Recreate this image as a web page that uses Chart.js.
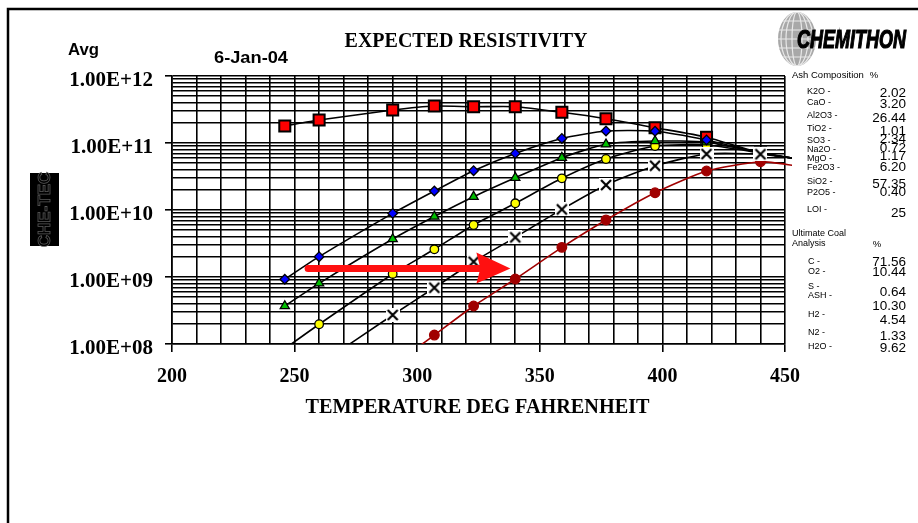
<!DOCTYPE html>
<html><head><meta charset="utf-8">
<script src="https://cdn.jsdelivr.net/npm/chart.js@4.4.1/dist/chart.umd.min.js"></script>
<style>html,body{margin:0;padding:0;background:#fff;}canvas{display:block;}</style>
</head><body>
<canvas id="c" width="918" height="523"></canvas>
<script>
// ---------- data ----------
const temperatures = [246, 260, 290, 307, 323, 340, 359, 377, 397, 418, 440, 455];
const redSquares = [1.79e11, 2.2e11, 3.1e11, 3.56e11, 3.48e11, 3.48e11, 2.87e11, 2.3e11, 1.69e11, 1.22e11, 7.1e10, 5.8e10];
const blueDiamonds = [9.25e8, 2.01e9, 8.9e9, 1.92e10, 3.86e10, 7.0e10, 1.17e11, 1.51e11, 1.5e11, 1.11e11, 7.1e10, 5.8e10];
const greenTriangles = [3.69e8, 8.05e8, 3.69e9, 8.0e9, 1.58e10, 3.03e10, 6.04e10, 9.57e10, 1.07e11, 1.03e11, 7.1e10, 5.8e10];
const yellowCircles = [8.5e7, 1.97e8, 1.11e9, 2.59e9, 5.97e9, 1.26e10, 2.97e10, 5.77e10, 9.02e10, 9.33e10, 7.1e10, 5.8e10];
const crosses = [null, 4.9e7, 2.71e8, 6.92e8, 1.69e9, 3.91e9, 1.02e10, 2.36e10, 4.58e10, 6.85e10, 6.8e10, 5.8e10];
const darkRedDots = [null, null, 4.7e7, 1.36e8, 3.69e8, 9.33e8, 2.77e9, 7.1e9, 1.81e10, 3.82e10, 5.26e10, 4.54e10];

const xMin = 200, xMax = 450;
const xLabelValues = [200, 250, 300, 350, 400, 450];
const xGridValues = [200,210,220,230,240,250,260,270,280,290,300,310,320,330,340,350,360,370,380,390,400,410,420,430,440,450];
const yDecadeExponents = [8, 9, 10, 11, 12];
const yMinorSignificands = [1, 2, 3, 4, 5, 6, 7, 8, 9];

const titleText = 'EXPECTED RESISTIVITY';
const xTitleText = 'TEMPERATURE DEG FAHRENHEIT';
const avgText = 'Avg';
const dateText = '6-Jan-04';
const logoText = 'CHEMITHON';

const ashHeader = 'Ash Composition';
const ashLabels = ['K2O -', 'CaO -', 'Al2O3 -', 'TiO2 -', 'SO3 -', 'Na2O -', 'MgO -', 'Fe2O3 -', 'SiO2 -', 'P2O5 -', 'LOI -'];
const ashValues = ['2.02', '3.20', '26.44', '1.01', '2.34', '0.72', '1.17', '6.20', '57.35', '0.40', '25'];
const coalHeader = ['Ultimate Coal', 'Analysis'];
const coalLabels = ['C -', 'O2 -', 'S -', 'ASH -', 'H2 -', 'N2 -', 'H2O -'];
const coalValues = ['71.56', '10.44', '0.64', '10.30', '4.54', '1.33', '9.62'];

const arrowFrom = [255.5, 1.34e9];
const arrowTo = [338, 1.34e9];

// ---------- layout / style (not data) ----------
const ashLabelY = [92, 103, 116, 129, 141, 150, 159, 168, 182, 193, 210];
const ashValueY = [93, 104, 118, 131, 139, 148, 156, 167, 184, 192, 213];
const coalLabelY = [262, 272, 287, 296, 315, 333, 347];
const coalValueY = [262, 272, 292, 306, 320, 336, 348];

const SERIF = '"Liberation Serif", "Times New Roman", serif';
const SANS = '"Liberation Sans", Arial, sans-serif';

function makeXMarker() {
  const c = document.createElement('canvas');
  c.width = 14; c.height = 14;
  const g = c.getContext('2d');
  g.fillStyle = '#fff';
  g.fillRect(0, 0, 14, 14);
  g.strokeStyle = '#000';
  g.lineWidth = 2.2;
  g.beginPath();
  g.moveTo(2, 2); g.lineTo(12, 12);
  g.moveTo(12, 2); g.lineTo(2, 12);
  g.stroke();
  return c;
}
const xMarker = makeXMarker();

function pts(vals) { return temperatures.map((t, i) => ({ x: t, y: vals[i] })); }
const lastIdx = temperatures.length - 1;
function rad(r) { return ctx => (ctx.dataIndex === lastIdx ? 0 : r); }
const clipOpt = { left: 0, top: 0, right: 7, bottom: 0 };

const common = { showLine: true, tension: 0.2, clip: clipOpt, borderWidth: 1.6, pointBorderWidth: 1.3 };

const datasets = [
  Object.assign({}, common, { label: 'x', data: pts(crosses), borderColor: '#000', pointStyle: xMarker, pointRadius: rad(6), spanGaps: false }),
  Object.assign({}, common, { label: 'blue', data: pts(blueDiamonds), borderColor: '#000', pointStyle: 'rectRot', pointRadius: rad(4.8), pointBackgroundColor: '#0000ff', pointBorderColor: '#000' }),
  Object.assign({}, common, { label: 'green', data: pts(greenTriangles), borderColor: '#000', pointStyle: 'triangle', pointRadius: rad(5.3), pointBackgroundColor: '#00c000', pointBorderColor: '#000' }),
  Object.assign({}, common, { label: 'yellow', data: pts(yellowCircles), borderColor: '#000', pointStyle: 'circle', pointRadius: rad(4.3), pointBackgroundColor: '#ffff00', pointBorderColor: '#000' }),
  Object.assign({}, common, { label: 'darkred', data: pts(darkRedDots), borderColor: '#a00000', pointStyle: 'circle', pointRadius: rad(4.8), pointBackgroundColor: '#a00000', pointBorderColor: '#a00000' }),
  Object.assign({}, common, { label: 'red', data: pts(redSquares), borderColor: '#000', pointStyle: 'rect', pointRadius: rad(7.8), pointBackgroundColor: '#ff0000', pointBorderColor: '#000', pointBorderWidth: 2 })
];

function isDecade(v) { const e = Math.log10(v); return Math.abs(e - Math.round(e)) < 1e-9; }

function fitText(ctx, text, x, y, width, font, align, strokeW) {
  ctx.save();
  ctx.font = font;
  const w = ctx.measureText(text).width;
  const s = width / w;
  let left = x;
  if (align === 'right') left = x - width;
  else if (align === 'center') left = x - width / 2;
  ctx.translate(left, y);
  ctx.scale(s, 1);
  ctx.textAlign = 'left';
  ctx.fillText(text, 0, 0);
  if (strokeW) { ctx.lineWidth = strokeW; ctx.strokeStyle = ctx.fillStyle; ctx.strokeText(text, 0, 0); }
  ctx.restore();
}

const decorPlugin = {
  id: 'decor',
  beforeDraw(chart) {
    const c = chart.ctx;
    c.save(); c.fillStyle = '#fff'; c.fillRect(0, 0, chart.width, chart.height); c.restore();
  },
  afterDatasetsDraw(chart) {
    const c = chart.ctx, xs = chart.scales.x, ys = chart.scales.y;
    const x0 = xs.getPixelForValue(arrowFrom[0]), y0 = ys.getPixelForValue(arrowFrom[1]);
    const x1 = xs.getPixelForValue(arrowTo[0]), y1 = ys.getPixelForValue(arrowTo[1]);
    c.save();
    c.fillStyle = '#ff1010';
    c.strokeStyle = '#ff1010';
    c.lineWidth = 7; c.lineCap = 'round';
    c.beginPath(); c.moveTo(x0, y0); c.lineTo(x1 - 28, y1); c.stroke();
    c.beginPath();
    c.moveTo(x1, y1);
    c.lineTo(x1 - 34, y1 - 16);
    c.lineTo(x1 - 30, y1);
    c.lineTo(x1 - 34, y1 + 15);
    c.closePath(); c.fill();
    c.restore();
  },
  afterDraw(chart) {
    const c = chart.ctx;
    c.save();
    // frame
    c.strokeStyle = '#000'; c.lineWidth = 2.5;
    c.beginPath(); c.moveTo(8, 523); c.lineTo(8, 9); c.lineTo(918, 9); c.stroke();

    // titles
    c.fillStyle = '#000';
    c.textBaseline = 'alphabetic';
    c.font = 'bold 20px ' + SERIF; c.textAlign = 'center';
    c.fillText(titleText, 466, 47);
    const ca = chart.chartArea;
    fitText(c, xTitleText, (ca.left + ca.right) / 2 - 1, 413, 344, 'bold 20px ' + SERIF, 'center');
    fitText(c, avgText, 68, 55, 31, 'bold 16px ' + SANS, 'left');
    fitText(c, dateText, 214, 63, 74, 'bold 16px ' + SANS, 'left');

    // globe logo
    c.save();
    c.beginPath(); c.ellipse(797, 39, 19, 27, 0, 0, Math.PI * 2); c.clip();
    c.fillStyle = '#a8a8a8'; c.fillRect(770, 10, 60, 60);
    c.strokeStyle = '#e8e8e8'; c.lineWidth = 1.2;
    [5, 11, 16].forEach(r => { c.beginPath(); c.ellipse(797, 39, r, 27, 0, 0, Math.PI * 2); c.stroke(); });
    [-18, -9, 0, 9, 18].forEach(d => { c.beginPath(); c.moveTo(775, 39 + d); c.lineTo(820, 39 + d); c.stroke(); });
    c.restore();
    c.fillStyle = '#000';
    fitText(c, logoText, 797, 48, 109, 'italic bold 25px ' + SANS, 'left', 1.2);

    // left small logo box
    c.fillStyle = '#000'; c.fillRect(30, 173, 29, 73);
    c.save();
    c.translate(44.5, 209.5); c.rotate(-Math.PI / 2);
    c.font = 'bold 17px ' + SANS; c.textAlign = 'center'; c.textBaseline = 'middle';
    c.strokeStyle = '#5a5a5a'; c.lineWidth = 0.8;
    c.strokeText('CHE-TEC', 0, 1);
    c.restore();

    // right side table
    c.fillStyle = '#000';
    c.textBaseline = 'middle';
    c.font = '9.5px ' + SANS; c.textAlign = 'left';
    c.fillText(ashHeader, 792, 75);
    c.textAlign = 'center'; c.fillText('%', 874, 75);
    c.textAlign = 'left';
    c.font = '9px ' + SANS;
    ashLabels.forEach((t, i) => c.fillText(t, 807, ashLabelY[i]));
    c.fillText(coalHeader[0], 792, 234);
    c.fillText(coalHeader[1], 792, 244);
    c.textAlign = 'center'; c.font = '9.5px ' + SANS; c.fillText('%', 877, 244);
    c.textAlign = 'left'; c.font = '9px ' + SANS;
    coalLabels.forEach((t, i) => c.fillText(t, 808, coalLabelY[i]));
    c.textAlign = 'right'; c.font = '13.5px ' + SANS;
    ashValues.forEach((t, i) => c.fillText(t, 906, ashValueY[i]));
    coalValues.forEach((t, i) => c.fillText(t, 906, coalValueY[i]));
    c.restore();
  }
};

new Chart(document.getElementById('c'), {
  type: 'scatter',
  data: { datasets },
  plugins: [decorPlugin],
  options: {
    responsive: false,
    animation: false,
    events: [],
    layout: { padding: { left: 0, top: 76, right: 133, bottom: 0 } },
    plugins: { legend: { display: false }, tooltip: { enabled: false }, title: { display: false } },
    scales: {
      x: {
        type: 'linear', min: xMin, max: xMax,
        afterBuildTicks: s => { s.ticks = xGridValues.map(v => ({ value: v })); },
        afterFit: s => { s.height = 179; },
        ticks: {
          autoSkip: false, maxRotation: 0, minRotation: 0, padding: 13, color: '#000',
          font: { family: SERIF, size: 20, weight: 'bold' },
          callback: v => (xLabelValues.includes(v) ? String(v) : '')
        },
        grid: {
          color: '#000', lineWidth: 1.6, tickLength: 8, tickWidth: 1.6,
          tickColor: ctx => (ctx.tick && xLabelValues.includes(ctx.tick.value) ? '#000' : 'rgba(0,0,0,0)')
        },
        border: { display: true, color: '#000', width: 1.6 }
      },
      y: {
        type: 'logarithmic', min: 1e8, max: 1e12,
        afterBuildTicks: s => {
          const t = [];
          yDecadeExponents.forEach(e => {
            if (e === yDecadeExponents[yDecadeExponents.length - 1]) { t.push({ value: Math.pow(10, e), major: true }); return; }
            yMinorSignificands.forEach(m => t.push({ value: m * Math.pow(10, e), major: m === 1 }));
          });
          s.ticks = t;
        },
        afterFit: s => { s.width = 172; },
        ticks: {
          autoSkip: false, padding: 12, color: '#000', labelOffset: 5,
          font: { family: SERIF, size: 21, weight: 'bold' },
          callback: v => (isDecade(v) ? '1.00E+' + String(Math.round(Math.log10(v))).padStart(2, '0') : '')
        },
        grid: {
          color: '#000', lineWidth: 1.6, tickLength: 7, tickWidth: 1.6,
          tickColor: ctx => (ctx.tick && isDecade(ctx.tick.value) ? '#000' : 'rgba(0,0,0,0)')
        },
        border: { display: true, color: '#000', width: 1.6 }
      }
    }
  }
});
</script>
</body></html>
